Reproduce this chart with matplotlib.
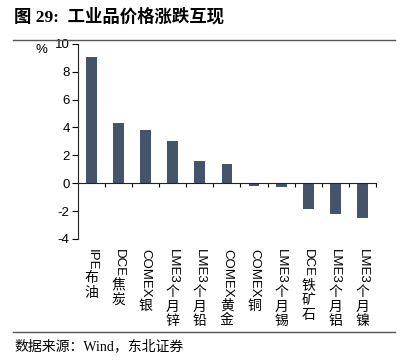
import re
import matplotlib
matplotlib.use("Agg")
import matplotlib.pyplot as plt
import numpy as np

# data
categories = ["IPE布油", "DCE焦炭", "COMEX银", "LME3个月锌", "LME3个月铅", "COMEX黄金",
              "COMEX铜", "LME3个月锡", "DCE铁矿石", "LME3个月铝", "LME3个月镍"]
changes = [9.05, 4.3, 3.8, 3.05, 1.6, 1.35, -0.17, -0.28, -1.87, -2.2, -2.5]
yticks = [-4, -2, 0, 2, 4, 6, 8, 10]

bar_color = "#44546A"
latin = ["Liberation Sans", "Noto Sans CJK SC"]
serif = ["Liberation Serif", "Noto Sans CJK SC"]

fig = plt.figure(figsize=(4.06, 3.63), dpi=100)
ax = fig.add_axes([0.192, 0.342, 0.734, 0.537])

x = np.arange(len(categories))
ax.bar(x, changes, width=0.4, color=bar_color)

ax.set_xlim(-0.5, len(categories) - 0.5)
ax.set_ylim(-4, 10)
ax.set_yticks(yticks)
ax.set_yticklabels([str(v) for v in yticks], family=latin, fontsize=9.5)
ax.tick_params(axis="y", direction="out", length=4, width=0.8, pad=2)

# x axis sits on zero, ticks at category boundaries
ax.spines["bottom"].set_position(("data", 0))
ax.spines["top"].set_visible(False)
ax.spines["right"].set_visible(False)
for s in ["left", "bottom"]:
    ax.spines[s].set_color("#222222")
    ax.spines[s].set_linewidth(0.8)
ax.set_xticks(np.arange(0.5, len(categories), 1.0))
ax.set_xticklabels([])
ax.tick_params(axis="x", direction="out", length=3, width=0.8)

# labels: latin part rotated, chinese part stacked upright
for i, name in enumerate(categories):
    m = re.match(r"([A-Za-z0-9]+)(.*)", name)
    lat, cn = m.group(1), m.group(2)
    t = ax.annotate(lat, xy=(i, -4), xycoords="data", xytext=(0, -7),
                    textcoords="offset points", rotation=-90, ha="center", va="top",
                    family=latin, fontsize=9.5)
    ax.annotate("\n".join(cn), xy=(0.5, 0), xycoords=t, xytext=(0, -1),
                textcoords="offset points", ha="center", va="top",
                family="Noto Sans CJK SC", fontsize=10, linespacing=1.08)

fig.text(36 / 406, 1 - 50 / 363, "%", family=latin, fontsize=9.5, ha="left", va="center")

# header and footer
fig.text(14 / 406, 1 - 17 / 363, "图 29:  工业品价格涨跌互现", family=serif,
         fontsize=12.5, weight="bold", ha="left", va="center")
fig.add_artist(plt.Line2D([13 / 406, 395 / 406], [1 - 39.5 / 363] * 2,
                          color="#555555", lw=1.0))
fig.add_artist(plt.Line2D([13 / 406, 395 / 406], [1 - 332 / 363] * 2,
                          color="#555555", lw=1.0))
fig.text(14 / 406, 1 - 346 / 363, "数据来源：Wind，东北证券", family=serif,
         fontsize=10, ha="left", va="center")

fig.savefig("out.png", dpi=100)
